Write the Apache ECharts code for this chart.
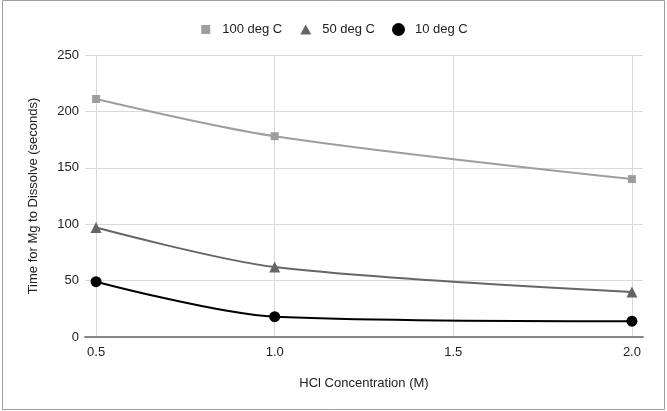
<!DOCTYPE html>
<html><head><meta charset="utf-8">
<script src="https://cdn.jsdelivr.net/npm/echarts@6/dist/echarts.min.js"></script>
<style>html,body{margin:0;padding:0;background:#fff}#c{width:667px;height:411px}</style>
</head><body><div id="c"></div>
<script>
var xValues = [0.5, 1.0, 2.0];
var s100 = [211, 178, 140];
var s50 = [97, 62, 40];
var s10 = [49, 18, 14];
var xTicks = [0.5, 1.0, 1.5, 2.0];
var names = ['100 deg C', '50 deg C', '10 deg C'];

function pairs(v){ return xValues.map(function(x,i){return [x, v[i]];}); }
var chart = echarts.init(document.getElementById('c'));
var font = 'Arial, "Liberation Sans", sans-serif';
var fs = 13;
chart.setOption({
  animation: false,
  textStyle: {fontFamily: font},
  graphic: [{type:'rect', shape:{x:2.5,y:0.5,width:662,height:409}, style:{fill:null, stroke:'#9e9e9e', lineWidth:1}, silent:true}],
  legend: {
    top: 18, left: 'center', itemGap: 17, itemWidth: 13, itemHeight: 13,
    textStyle: {fontSize: fs, color: '#222', fontFamily: font, padding: [0,0,0,5]},
    data: [
      {name:names[0], icon:'path://M0,0L0,0M13,13L13,13M2,2L11,2L11,11L2,11Z'},
      {name:names[1], icon:'path://M0,0L0,0M13,13L13,13M6.5,1.5L12,11.5L1,11.5Z'},
      {name:names[2], icon:'circle'}
    ]
  },
  grid: {left: 85, right: 24, top: 55, bottom: 74, containLabel: false},
  xAxis: {
    type: 'value', min: 0.469, max: 2.031,
    name: 'HCl Concentration (M)', nameLocation: 'middle', nameGap: 40,
    nameTextStyle: {fontSize: fs, color: '#222', fontFamily: font},
    axisLine: {show: true, lineStyle: {color: '#888', width: 2}},
    axisTick: {show: false, customValues: xTicks},
    axisLabel: {customValues: xTicks, fontSize: fs, color: '#222', margin: 9, formatter: function(v){return v.toFixed(1);}},
    splitLine: {show: true, lineStyle: {color: '#d9d9d9'}}
  },
  yAxis: {
    type: 'value', min: 0, max: 250, interval: 50,
    name: 'Time for Mg to Dissolve (seconds)', nameLocation: 'middle', nameGap: 45,
    nameTextStyle: {fontSize: fs, color: '#222', fontFamily: font},
    axisLine: {show: false}, axisTick: {show: false},
    axisLabel: {fontSize: fs, color: '#222', margin: 6},
    splitLine: {lineStyle: {color: '#d9d9d9'}}
  },
  series: [
    {name:names[0], type:'line', smooth:0.3, data:pairs(s100), symbol:'rect', symbolSize:8,
     itemStyle:{color:'#9e9e9e'}, lineStyle:{color:'#9e9e9e', width:2}},
    {name:names[1], type:'line', smooth:0.3, data:pairs(s50), symbol:'triangle', symbolSize:11,
     itemStyle:{color:'#666666'}, lineStyle:{color:'#666666', width:2}},
    {name:names[2], type:'line', smooth:0.3, data:pairs(s10), symbol:'circle', symbolSize:11,
     itemStyle:{color:'#000000'}, lineStyle:{color:'#000000', width:2}}
  ]
});
</script></body></html>
